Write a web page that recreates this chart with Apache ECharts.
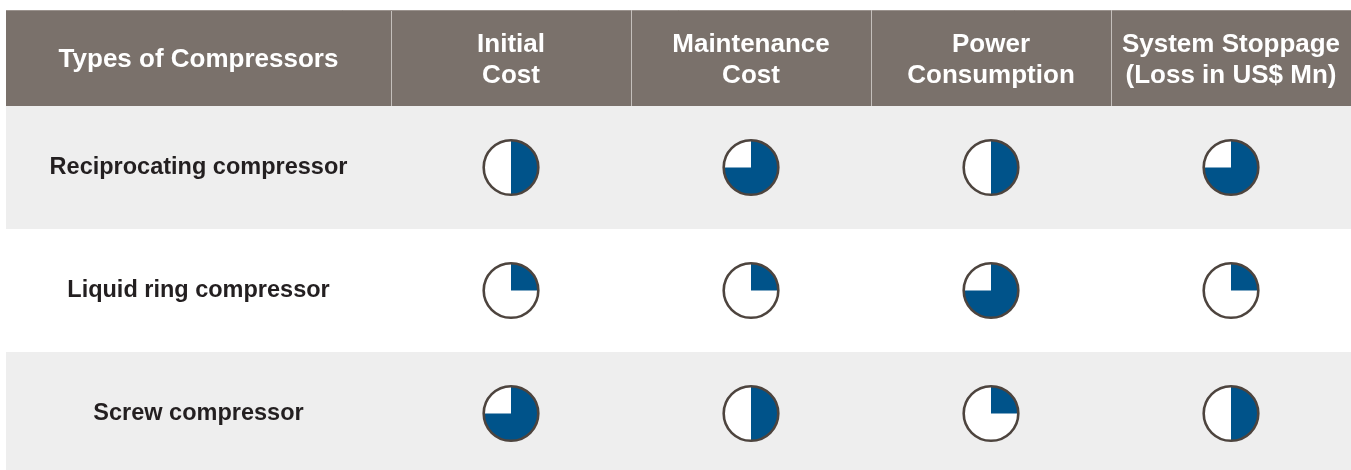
<!DOCTYPE html>
<html><head><meta charset="utf-8">
<script src="https://cdn.jsdelivr.net/npm/echarts@6/dist/echarts.min.js"></script>
<style>html,body{margin:0;padding:0;background:#fff}#c{width:1351px;height:470px}</style>
</head><body><div id="c"></div>
<script>
// ---- data ----
const headerLabel = 'Types of Compressors';
const columns = ['Initial\nCost', 'Maintenance\nCost', 'Power\nConsumption', 'System Stoppage\n(Loss in US$ Mn)'];
const rows = ['Reciprocating compressor', 'Liquid ring compressor', 'Screw compressor'];
// filled quarters of each Harvey ball (0-4), per column
const reciprocating = [2, 3, 2, 3];
const liquidRing = [1, 1, 3, 1];
const screw = [3, 2, 1, 2];

// ---- layout / style ----
const FONT = '"Liberation Sans", Arial, Helvetica, sans-serif';
const LABEL_COL_W = 385, HEADER_H = 96;
const HEADER_BG = '#7a716b', STRIPE = '#eeeeee', BLUE = '#00538a', RING = '#4d443e';

const ballData = [];
[reciprocating, liquidRing, screw].forEach((vals, r) => vals.forEach((q, c) => ballData.push([c, r, q])));

const chart = echarts.init(document.getElementById('c'), null, {renderer: 'canvas'});
chart.setOption({
  animation: false,
  grid: {left: 391, top: 106, width: 960, height: 369, outerBoundsMode: 'none', containLabel: false},
  xAxis: {
    type: 'category', data: columns, position: 'top', z: 10,
    axisLine: {show: false}, axisTick: {show: false}, splitLine: {show: false},
    axisLabel: {interval: 0, color: '#ffffff', fontFamily: FONT, fontSize: 26, fontWeight: 'bold',
      lineHeight: 31, margin: 15, align: 'center'}
  },
  yAxis: {
    type: 'category', data: rows, inverse: true, z: 10,
    axisLine: {show: false}, axisTick: {show: false}, splitLine: {show: false},
    axisLabel: {interval: 0, color: '#231f20', fontFamily: FONT, fontSize: 23.5, fontWeight: 'bold',
      align: 'center', margin: 192.5, padding: [4, 0, 0, 0]}
  },
  series: [
    {
      type: 'custom', name: 'stripes', clip: false, silent: true, z: 1,
      data: rows.map((r, i) => [0, i]),
      renderItem(params, api) {
        const cs = params.coordSys;
        const cy = api.coord([0, api.value(1)])[1];
        const h = api.size([0, 1])[1];
        return {type: 'rect', shape: {x: cs.x - LABEL_COL_W, y: cy - h / 2, width: cs.width + LABEL_COL_W, height: h},
          style: {fill: api.value(1) % 2 === 0 ? STRIPE : '#ffffff'}};
      }
    },
    {
      type: 'custom', name: 'header', clip: false, silent: true, z: 1,
      data: columns.map((c, j) => [j, 0]),
      renderItem(params, api) {
        const cs = params.coordSys;
        const j = api.value(0);
        const cx = api.coord([j, 0])[0];
        const w = api.size([1, 0])[0];
        const top = cs.y - HEADER_H;
        const children = [
          {type: 'rect', shape: {x: cx - w / 2, y: top, width: w, height: HEADER_H}, style: {fill: HEADER_BG}},
          {type: 'line', shape: {x1: Math.round(cx - w / 2) + 0.5, y1: top, x2: Math.round(cx - w / 2) + 0.5, y2: cs.y},
            style: {stroke: '#c4bfbb', lineWidth: 1}, z2: 5}
        ];
        if (j === 0) {
          children.push(
            {type: 'rect', shape: {x: cs.x - LABEL_COL_W, y: top, width: LABEL_COL_W, height: HEADER_H}, style: {fill: HEADER_BG}},
            {type: 'line', shape: {x1: cs.x - LABEL_COL_W, y1: top + 0.5, x2: cs.x + cs.width, y2: top + 0.5},
              style: {stroke: '#9a928d', lineWidth: 1}, z2: 5},
            {type: 'text', z2: 6, style: {text: headerLabel, x: cs.x - LABEL_COL_W / 2, y: top + HEADER_H / 2 + 2,
              align: 'center', verticalAlign: 'middle', fill: '#ffffff', fontFamily: FONT, fontSize: 26, fontWeight: 'bold'}}
          );
        }
        return {type: 'group', children};
      }
    },
    {
      type: 'custom', name: 'balls', clip: false, z: 3,
      data: ballData,
      renderItem(params, api) {
        const p = api.coord([api.value(0), api.value(1)]);
        const q = api.value(2);
        const R = 27.3;
        const children = [
          {type: 'circle', shape: {cx: p[0], cy: p[1], r: R}, style: {fill: '#ffffff'}}
        ];
        if (q > 0) {
          children.push({type: 'sector', shape: {cx: p[0], cy: p[1], r0: 0, r: R,
            startAngle: -Math.PI / 2, endAngle: -Math.PI / 2 + q * Math.PI / 2, clockwise: true},
            style: {fill: BLUE}});
        }
        children.push({type: 'circle', shape: {cx: p[0], cy: p[1], r: R}, style: {fill: 'none', stroke: RING, lineWidth: 2.6}});
        return {type: 'group', children};
      }
    }
  ]
});
</script>
</body></html>
